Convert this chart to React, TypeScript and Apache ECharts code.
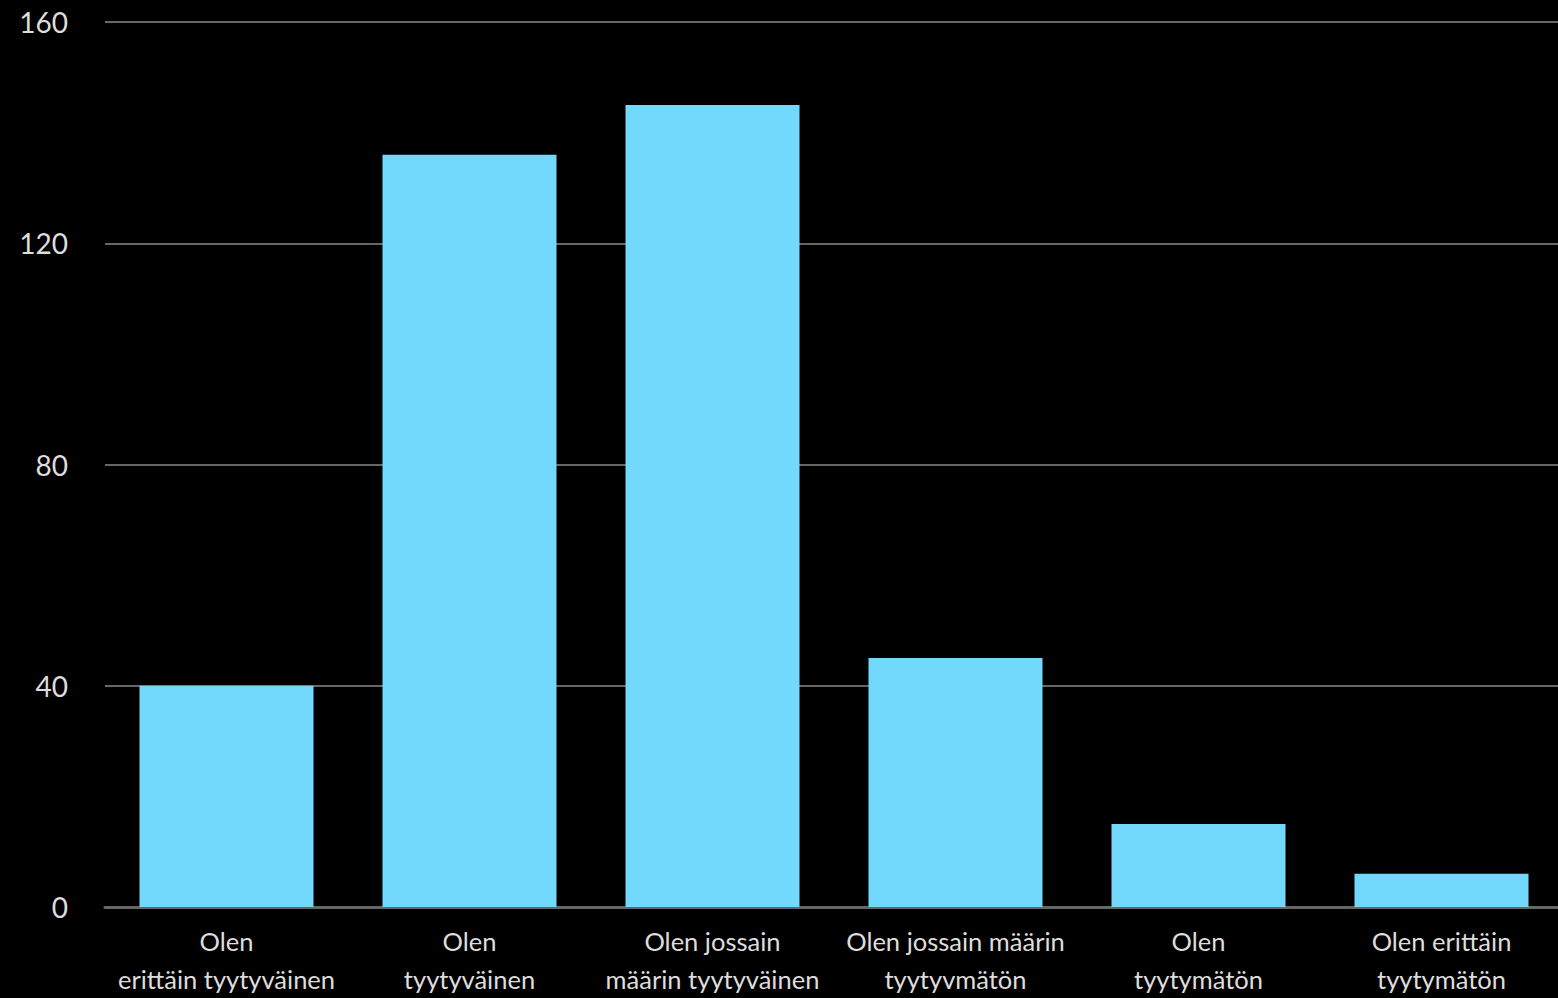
import React, { useEffect, useRef } from "react";
import * as echarts from "echarts";

const categories = [
  "Olen\nerittäin tyytyväinen",
  "Olen\ntyytyväinen",
  "Olen jossain\nmäärin tyytyväinen",
  "Olen jossain määrin\ntyytyvmätön",
  "Olen\ntyytymätön",
  "Olen erittäin\ntyytymätön",
];
const values = [40, 136, 145, 45, 15, 6];
const yTicks = { min: 0, max: 160, interval: 40 };

export default function App() {
  const ref = useRef<HTMLDivElement>(null);
  useEffect(() => {
    if (!ref.current) return;
    const chart = echarts.init(ref.current, undefined, { renderer: "svg" });
    chart.setOption({
      animation: false,
      backgroundColor: "#000000",
      textStyle: { fontFamily: "Lato" },
      grid: { left: 105, right: 0, top: 22, height: 890, containLabel: false },
      xAxis: {
        type: "category",
        data: categories,
        axisLine: { show: true, lineStyle: { color: "#666666", width: 3 } },
        axisTick: { show: false },
        axisLabel: {
          color: "#dddddd",
          fontSize: 25.5,
          lineHeight: 38,
          margin: 15,
          interval: 0,
          fontFamily: "Lato",
        },
      },
      yAxis: {
        type: "value",
        min: yTicks.min,
        max: yTicks.max,
        interval: yTicks.interval,
        axisLine: { show: false },
        axisTick: { show: false },
        splitLine: { show: true, lineStyle: { color: "#666666", width: 2 } },
        axisLabel: { color: "#dddddd", fontSize: 28, margin: 37, fontFamily: "Lato" },
      },
      series: [
        {
          type: "bar",
          data: values,
          barWidth: 174,
          itemStyle: { color: "#72D8FC" },
        },
      ],
    });
    return () => chart.dispose();
  }, []);
  return (
    <div
      ref={ref}
      style={{ position: "fixed", left: 0, top: 0, width: 1563, height: 998, background: "#000" }}
    />
  );
}
